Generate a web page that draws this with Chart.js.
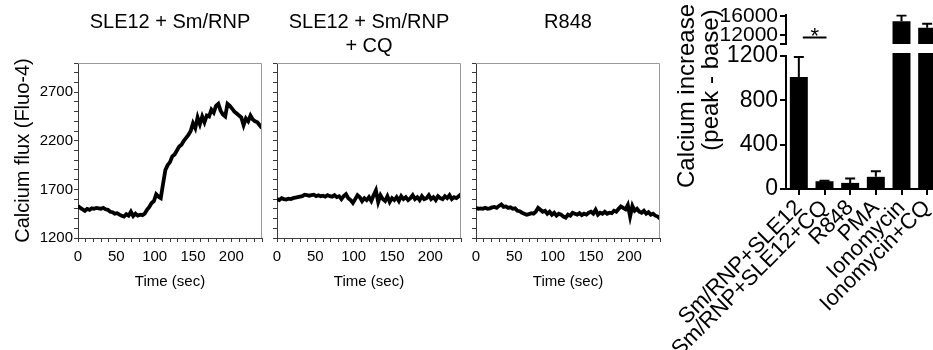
<!DOCTYPE html>
<html><head><meta charset="utf-8">
<script src="https://cdn.jsdelivr.net/npm/chart.js@4.4.1/dist/chart.umd.min.js"></script>
<style>
html,body{margin:0;padding:0;background:#fff;overflow:hidden;}
#wrap{position:relative;width:933px;height:350px;overflow:hidden;background:#fff;}
canvas{position:absolute;}
</style></head><body>
<div id="wrap">
<canvas id="p1" width="270" height="300" style="left:0;top:0"></canvas>
<canvas id="p2" width="205" height="300" style="left:266px;top:0"></canvas>
<canvas id="p3" width="205" height="300" style="left:465px;top:0"></canvas>
<canvas id="barLow" width="290" height="350" style="left:660px;top:0"></canvas>
<canvas id="barHigh" width="290" height="60" style="left:660px;top:0"></canvas>
</div>
<script>
// ---------- data ----------
const TIME = [0,3,6,9,12,15,18,21,24,27,
  30,33,36,39,42,45,48,51,54,57,
  60,63,66,69,72,75,78,81,84,87,
  90,93,96,99,102,105,108,111,114,117,
  120,123,126,129,132,135,138,141,144,147,
  150,153,156,159,162,165,168,171,174,177,
  180,183,186,189,192,195,198,201,204,207,
  210,213,216,219,222,225,228,231,234,237,
  240];
const SLE12_SMRNP = [1530,1510,1495,1480,1500,1490,1505,1500,1510,1505,
  1500,1510,1495,1490,1470,1465,1450,1455,1440,1430,
  1420,1445,1430,1470,1425,1450,1430,1440,1435,1450,
  1490,1520,1560,1580,1650,1625,1610,1760,1900,1950,
  1980,2040,2060,2100,2140,2160,2200,2230,2260,2300,
  2380,2330,2440,2370,2450,2390,2460,2450,2520,2490,
  2560,2580,2510,2470,2450,2580,2560,2530,2500,2480,
  2460,2440,2360,2430,2400,2460,2420,2400,2390,2360,
  2330];
const SLE12_SMRNP_CQ = [1600,1590,1610,1600,1595,1605,1600,1610,1615,1620,
  1625,1630,1645,1640,1635,1640,1645,1630,1640,1630,
  1635,1625,1640,1630,1625,1640,1620,1630,1600,1630,
  1650,1610,1590,1560,1600,1640,1620,1580,1610,1590,
  1620,1580,1640,1690,1570,1640,1600,1580,1630,1570,
  1610,1590,1620,1580,1630,1600,1620,1590,1610,1640,
  1600,1620,1590,1630,1600,1610,1640,1600,1620,1590,
  1630,1610,1600,1630,1610,1640,1600,1620,1610,1630,
  1650];
const R848_TRACE = [1510,1500,1505,1500,1510,1500,1505,1515,1520,1510,
  1530,1545,1520,1525,1510,1515,1500,1505,1480,1475,
  1460,1450,1440,1445,1455,1450,1470,1510,1490,1470,
  1480,1450,1470,1440,1460,1430,1450,1440,1420,1410,
  1440,1430,1460,1450,1440,1455,1435,1450,1440,1460,
  1470,1450,1490,1440,1460,1450,1470,1450,1460,1455,
  1480,1470,1500,1525,1510,1495,1540,1420,1530,1480,
  1500,1470,1460,1480,1450,1465,1440,1450,1430,1420,
  1400];
const PANEL_TITLES = [['SLE12 + Sm/RNP'], ['SLE12 + Sm/RNP', '+ CQ'], ['R848']];
const Y_TICK_LABELS = [1200, 1700, 2200, 2700];
const X_TICK_LABELS = [0, 50, 100, 150, 200];

const BAR_CATEGORIES = ['Sm/RNP+SLE12', 'Sm/RNP+SLE12+CQ', 'R848', 'PMA', 'Ionomycin', 'Ionomycin+CQ'];
const BAR_MEANS = [1010, 70, 55, 110, 14950, 13550];
const BAR_SEM = [180, 5, 40, 50, 1260, 850];
const LOWER_TICKS = [0, 400, 800, 1200];
const UPPER_TICKS = [10000, 12000, 16000];
const UPPER_TICK_LABELS = [12000, 16000];
const SIG_LEVEL = 11600;

// ---------- styling ----------
const FONT = "'Liberation Sans', Arial, sans-serif";
const AXIS_GRAY = '#3a3a3a';

const framePlugin = {
  id: 'frame',
  afterDraw(chart) {
    const {ctx, chartArea: a} = chart;
    ctx.save();
    ctx.strokeStyle = '#9a9a9a';
    ctx.lineWidth = 1;
    ctx.beginPath();
    ctx.moveTo(a.left, a.top + 0.5);
    ctx.lineTo(a.right - 0.5, a.top + 0.5);
    ctx.lineTo(a.right - 0.5, a.bottom);
    ctx.stroke();
    ctx.restore();
  }
};

function linePanel(id, series, title, cfg) {
  return new Chart(document.getElementById(id), {
    type: 'line',
    data: {
      datasets: [{
        data: TIME.map((t, i) => ({x: t, y: series[i]})),
        borderColor: '#000', borderWidth: 3.8, pointRadius: 0, tension: 0, fill: false
      }]
    },
    options: {
      responsive: false, animation: false, events: [],
      layout: {padding: {left: 0, right: cfg.padRight, top: 0, bottom: 0}},
      plugins: {
        legend: {display: false}, tooltip: {enabled: false},
        title: {display: true, text: title, fullSize: false, color: '#000',
          font: {family: FONT, size: 20, weight: 'normal'},
          padding: {top: 10, bottom: title.length > 1 ? 5 : 29}}
      },
      scales: {
        x: {
          type: 'linear', min: 0, max: 240,
          ticks: {stepSize: 10, autoSkip: false, maxRotation: 0, padding: 6, color: '#000',
            font: {family: FONT, size: 15},
            callback: v => X_TICK_LABELS.includes(v) ? String(v) : ''},
          grid: {drawOnChartArea: false, drawTicks: true, tickLength: 4, color: AXIS_GRAY},
          border: {display: true, color: AXIS_GRAY, width: 1},
          title: {display: true, text: 'Time (sec)', color: '#000',
            font: {family: FONT, size: 15}, padding: {top: 2, bottom: 9}},
          afterFit: ax => { ax.height = 62; }
        },
        y: {
          type: 'linear', min: 1200, max: 3000,
          ticks: {stepSize: 100, autoSkip: false, padding: 1, color: '#000',
            font: {family: FONT, size: 15},
            callback: v => (cfg.yLabels && Y_TICK_LABELS.includes(v)) ? String(v) : ''},
          grid: {drawOnChartArea: false, drawTicks: true, tickLength: 4, color: AXIS_GRAY},
          border: {display: true, color: AXIS_GRAY, width: 1},
          title: {display: cfg.yLabels, text: 'Calcium flux (Fluo-4)', color: '#000',
            font: {family: FONT, size: 20}, padding: {top: 11, bottom: 0}},
          afterFit: ax => { ax.width = cfg.yWidth; }
        }
      }
    },
    plugins: [framePlugin]
  });
}

linePanel('p1', SLE12_SMRNP, PANEL_TITLES[0], {yLabels: true, yWidth: 78, padRight: 8});
linePanel('p2', SLE12_SMRNP_CQ, PANEL_TITLES[1], {yLabels: false, yWidth: 11, padRight: 10});
linePanel('p3', R848_TRACE, PANEL_TITLES[2], {yLabels: false, yWidth: 11, padRight: 10});

// ---------- bar chart (broken axis: two stacked canvases) ----------
const errorBarPlugin = {
  id: 'errorBars',
  afterDatasetsDraw(chart, args, opts) {
    const {ctx, chartArea: a} = chart;
    const y = chart.scales.y;
    const meta = chart.getDatasetMeta(0);
    const over = opts.overTop || 0;
    ctx.save();
    ctx.beginPath();
    ctx.rect(a.left - 30, a.top - over, a.right - a.left + 60, a.bottom - a.top + over);
    ctx.clip();
    ctx.strokeStyle = '#000';
    ctx.lineWidth = 2;
    meta.data.forEach((bar, i) => {
      const err = BAR_SEM[i];
      if (!err) return;
      const y0 = y.getPixelForValue(BAR_MEANS[i]);
      const y1 = y.getPixelForValue(BAR_MEANS[i] + err);
      ctx.beginPath();
      ctx.moveTo(bar.x, y0); ctx.lineTo(bar.x, y1);
      ctx.moveTo(bar.x - 5, y1); ctx.lineTo(bar.x + 5, y1);
      ctx.stroke();
    });
    ctx.restore();
  }
};

const barTitlePlugin = {
  id: 'barTitle',
  afterDraw(chart) {
    const {ctx, chartArea: a} = chart;
    ctx.save();
    ctx.fillStyle = '#000';
    ctx.font = "24px " + FONT;
    ctx.textAlign = 'center';
    ctx.textBaseline = 'middle';
    ctx.translate(a.left - 99, 96);
    ctx.rotate(-Math.PI / 2);
    ctx.fillText('Calcium increase', 0, 0);
    ctx.restore();
    ctx.save();
    ctx.fillStyle = '#000';
    ctx.font = "24px " + FONT;
    ctx.textAlign = 'center';
    ctx.textBaseline = 'middle';
    ctx.translate(a.left - 75, 80);
    ctx.rotate(-Math.PI / 2);
    ctx.fillText('(peak - base)', 0, 0);
    ctx.restore();
  }
};

const sigPlugin = {
  id: 'sig',
  afterDraw(chart) {
    const {ctx} = chart;
    const meta = chart.getDatasetMeta(0);
    const x0 = meta.data[0].x + 4, x1 = meta.data[1].x + 2;
    const y = Math.round(chart.scales.y.getPixelForValue(SIG_LEVEL)) + 0.5;
    ctx.save();
    ctx.strokeStyle = '#000';
    ctx.lineWidth = 2;
    ctx.beginPath(); ctx.moveTo(x0, y); ctx.lineTo(x1, y); ctx.stroke();
    ctx.fillStyle = '#000';
    ctx.font = "22px " + FONT;
    ctx.textAlign = 'center';
    ctx.textBaseline = 'alphabetic';
    ctx.fillText('*', (x0 + x1) / 2, y + 5);
    ctx.restore();
  }
};

new Chart(document.getElementById('barLow'), {
  type: 'bar',
  data: {labels: BAR_CATEGORIES, datasets: [{
    data: BAR_MEANS, backgroundColor: '#000', borderWidth: 0,
    barPercentage: 0.7, categoryPercentage: 1,
    clip: {left: false, right: false, top: 3, bottom: 0}
  }]},
  options: {
    responsive: false, animation: false, events: [],
    layout: {padding: {left: 0, right: 10, top: 56, bottom: 0}},
    plugins: {legend: {display: false}, tooltip: {enabled: false}, errorBars: {overTop: 3}},
    scales: {
      x: {
        offset: true,
        grid: {display: true, drawOnChartArea: false, offset: false, tickLength: 6, color: '#000', lineWidth: 2},
        border: {display: true, color: '#000', width: 2},
        ticks: {autoSkip: false, maxRotation: 45, minRotation: 45, padding: 0, color: '#000',
          font: {family: FONT, size: 22}},
        afterFit: ax => { ax.height = 161; }
      },
      y: {
        min: 0, max: 1200,
        afterBuildTicks: ax => { ax.ticks = LOWER_TICKS.map(v => ({value: v})); },
        ticks: {autoSkip: false, padding: 2, color: '#000', font: {family: FONT, size: 23},
          callback: v => String(v)},
        grid: {drawOnChartArea: false, tickLength: 6, color: '#000', lineWidth: 2},
        border: {display: true, color: '#000', width: 2},
        afterFit: ax => { ax.width = 126; }
      }
    }
  },
  plugins: [errorBarPlugin, barTitlePlugin]
});

new Chart(document.getElementById('barHigh'), {
  type: 'bar',
  data: {labels: BAR_CATEGORIES, datasets: [{
    data: BAR_MEANS, backgroundColor: '#000', borderWidth: 0,
    barPercentage: 0.7, categoryPercentage: 1,
    clip: {left: false, right: false, top: 0, bottom: 0}
  }]},
  options: {
    responsive: false, animation: false, events: [],
    layout: {padding: {left: 0, right: 10, top: 12, bottom: 16}},
    plugins: {legend: {display: false}, tooltip: {enabled: false}, errorBars: {overTop: 0}},
    scales: {
      x: {display: false, offset: true},
      y: {
        min: 10000, max: 16400,
        afterBuildTicks: ax => { ax.ticks = UPPER_TICKS.map(v => ({value: v})); },
        ticks: {autoSkip: false, padding: 2, color: '#000', font: {family: FONT, size: 21},
          callback: v => UPPER_TICK_LABELS.includes(v) ? String(v) : ''},
        grid: {drawOnChartArea: false, tickLength: 6, color: '#000', lineWidth: 2},
        border: {display: true, color: '#000', width: 2},
        afterFit: ax => { ax.width = 126; }
      }
    }
  },
  plugins: [errorBarPlugin, sigPlugin]
});
</script>
</body></html>
